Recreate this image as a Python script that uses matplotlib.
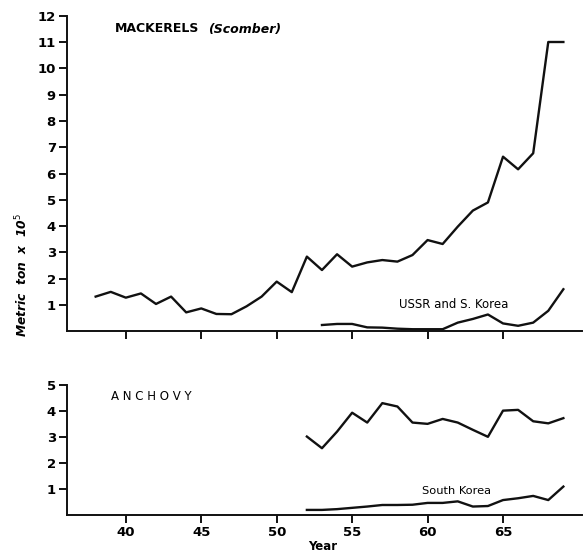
import matplotlib
matplotlib.use("Agg")
import matplotlib.pyplot as plt

years_mack = list(range(38, 70))
mackerel = [1.32, 1.5, 1.28, 1.44, 1.04, 1.32, 0.72, 0.87, 0.66, 0.65, 0.95, 1.32,
            1.89, 1.49, 2.84, 2.33, 2.93, 2.46, 2.62, 2.71, 2.65, 2.9, 3.47, 3.32,
            3.98, 4.59, 4.9, 6.64, 6.16, 6.77, 11.0, 11.0]
years_ussr = list(range(53, 70))
ussr_korea = [0.24, 0.28, 0.28, 0.15, 0.14, 0.1, 0.08, 0.08, 0.08, 0.33, 0.47,
              0.64, 0.3, 0.21, 0.33, 0.78, 1.6]
years_anch = list(range(52, 70))
anchovy = [3.01, 2.56, 3.2, 3.93, 3.55, 4.3, 4.17, 3.55, 3.5, 3.69, 3.55, 3.27,
           3.0, 4.01, 4.04, 3.6, 3.52, 3.72]
south_korea = [0.18, 0.18, 0.21, 0.26, 0.31, 0.37, 0.37, 0.38, 0.45, 0.45, 0.51,
               0.31, 0.33, 0.56, 0.63, 0.72, 0.56, 1.08]
xticks = [40, 45, 50, 55, 60, 65]
yticks_top = list(range(1, 13))
yticks_bot = [1, 2, 3, 4, 5]

plt.rcParams['font.family'] = ['DejaVu Sans']
fig = plt.figure(figsize=(5.84, 5.51), dpi=100)
ax1 = fig.add_axes([0.1147, 0.3987, 0.882, 0.5728])
ax2 = fig.add_axes([0.1147, 0.0661, 0.882, 0.2352])

lw = 1.7
col = '#111111'
ax1.plot(years_mack, mackerel, color=col, lw=lw)
ax1.plot(years_ussr, ussr_korea, color=col, lw=lw)
ax2.plot(years_anch, anchovy, color=col, lw=lw)
ax2.plot(years_anch, south_korea, color=col, lw=lw)

for ax, yt, ymax in ((ax1, yticks_top, 12), (ax2, yticks_bot, 5)):
    ax.set_xlim(36.1, 70.24)
    ax.set_ylim(0, ymax)
    ax.spines['top'].set_visible(False)
    ax.spines['right'].set_visible(False)
    for s in ('left', 'bottom'):
        ax.spines[s].set_linewidth(1.4)
        ax.spines[s].set_color(col)
    ax.set_yticks(yt)
    ax.set_xticks(xticks)
    ax.tick_params(axis='both', direction='out', length=6, width=1.4, color=col,
                   labelsize=9.5, pad=2)
    for lab in ax.get_yticklabels() + ax.get_xticklabels():
        lab.set_fontweight('bold')

ax1.set_xticklabels([])

def fx(px):
    return px / 584

def fy(py):
    return 1 - py / 551

fig.text(fx(115), fy(29), 'MACKERELS', fontsize=9, fontweight='bold',
         ha='left', va='center')
fig.text(fx(208), fy(29), '(Scomber)', fontsize=9, fontweight='bold',
         style='italic', ha='left', va='center')
fig.text(fx(454), fy(304), 'USSR and S. Korea', fontsize=8.5,
         ha='center', va='center')
fig.text(fx(151), fy(396), 'A N C H O V Y', fontsize=8.5,
         ha='center', va='center')
fig.text(fx(457), fy(491), 'South Korea', fontsize=8.2,
         ha='center', va='center')

fig.text(fx(22), fy(275), r'Metric  ton  x  10$^{5}$', rotation=90,
         fontsize=8.8, fontweight='bold', style='italic', ha='center', va='center')
fig.text(fx(323), fy(546), 'Year', fontsize=8.5, fontweight='bold',
         ha='center', va='center')

fig.savefig('out.png', dpi=100)
